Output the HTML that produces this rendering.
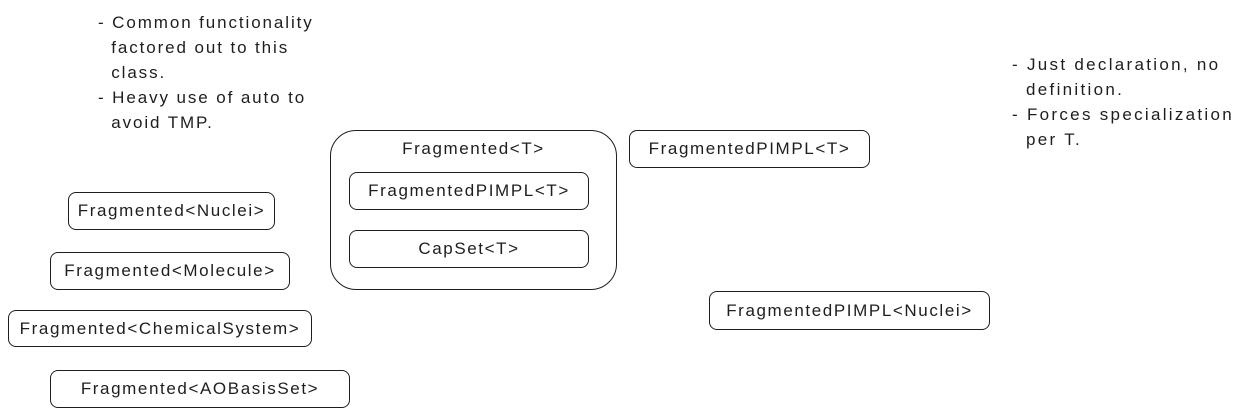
<!DOCTYPE html>
<html><head><style>
body{margin:0;width:1241px;height:420px;background:#fff;position:relative;overflow:hidden;font-family:"Liberation Sans",sans-serif;color:#1e1e1e}
.b{position:absolute;border:1.5px solid #1e1e1e;border-radius:8px;box-sizing:border-box;display:flex;align-items:center;justify-content:center;font-size:17px;letter-spacing:1.6px;white-space:nowrap}
.t{position:absolute;font-size:17px;letter-spacing:1.9px;line-height:25px;white-space:pre}
</style></head><body>
<div class="t" style="left:98px;top:10px">- Common functionality
  factored out to this
  class.
- Heavy use of auto to
  avoid TMP.</div>
<div class="t" style="left:1012px;top:52px;letter-spacing:2.3px">- Just declaration, no
  definition.
- Forces specialization
  per T.</div>
<div class="b" style="left:330px;top:130px;width:287px;height:160px;border-radius:26px;align-items:flex-start;padding-top:8px">Fragmented&lt;T&gt;</div>
<div class="b" style="left:349px;top:172px;width:240px;height:38px">FragmentedPIMPL&lt;T&gt;</div>
<div class="b" style="left:349px;top:230px;width:240px;height:38px">CapSet&lt;T&gt;</div>
<div class="b" style="left:68px;top:192px;width:207px;height:38px">Fragmented&lt;Nuclei&gt;</div>
<div class="b" style="left:50px;top:252px;width:240px;height:38px">Fragmented&lt;Molecule&gt;</div>
<div class="b" style="left:8px;top:310px;width:304px;height:37px">Fragmented&lt;ChemicalSystem&gt;</div>
<div class="b" style="left:50px;top:370px;width:300px;height:38px">Fragmented&lt;AOBasisSet&gt;</div>
<div class="b" style="left:629px;top:130px;width:241px;height:38px">FragmentedPIMPL&lt;T&gt;</div>
<div class="b" style="left:709px;top:291px;width:281px;height:39px">FragmentedPIMPL&lt;Nuclei&gt;</div>
</body></html>
